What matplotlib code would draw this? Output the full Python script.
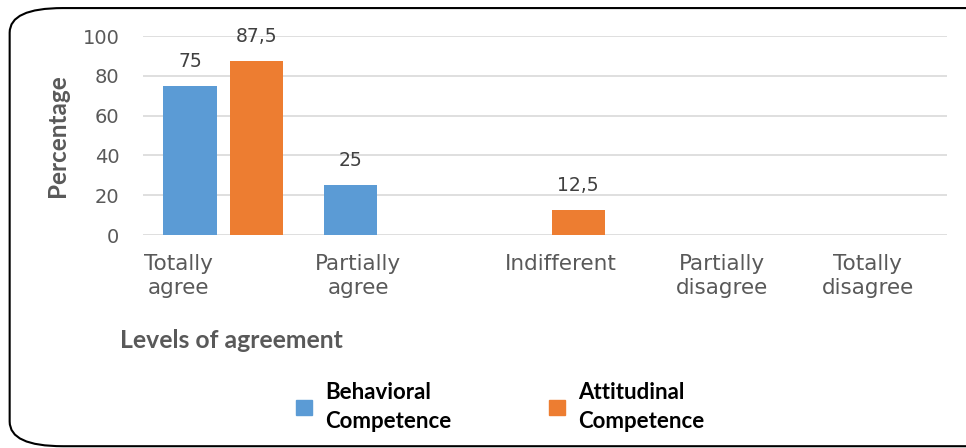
import matplotlib

matplotlib.use('Agg')
import matplotlib.pyplot as plt
from matplotlib.patches import FancyBboxPatch
import numpy as np

plt.rcParams['font.family'] = ['Lato', 'DejaVu Sans']

categories = ["Totally\nagree", "Partially\nagree", "Indifferent", "Partially\ndisagree", "Totally\ndisagree"]
behavioral = [75, 25, 0, 0, 0]
attitudinal = [87.5, 0, 12.5, 0, 0]
series_labels = ["Behavioral\nCompetence", "Attitudinal\nCompetence"]
colors = ["#5B9BD5", "#ED7D31"]

# where the category labels sit (shifted like in the original export)
label_shift = [-0.28, -0.16, 0.10, 0.10, 0.01]

fig = plt.figure(figsize=(9.66, 4.48), dpi=100)
ax = fig.add_axes([0.148, 0.4754, 0.832, 0.4442])

x = np.arange(len(categories))
w = 0.33
handles = []
for i, (vals, col) in enumerate(zip([behavioral, attitudinal], colors)):
    off = (i - 0.5) * 0.415
    for xi, v in zip(x, vals):
        if v > 0:
            ax.bar(xi + off, v, width=w, color=col, zorder=3)
            ax.text(xi + off, v + 9.5, ("%g" % v).replace(".", ","), ha='center', va='baseline',
                    fontsize=13.5, color='#404040', family='DejaVu Sans')
    handles.append(plt.Rectangle((0, 0), 1, 1, color=col))

ax.set_xlim(-0.5, len(categories) - 0.5)
ax.set_ylim(0, 100)
ax.set_yticks(range(0, 101, 20))
ax.grid(axis='y', color='#d9d9d9', linewidth=1.2, zorder=0)
for s in ax.spines.values():
    s.set_visible(False)
ax.tick_params(length=0, labelcolor='#595959')
ax.tick_params(axis='y', pad=17, labelsize=14)
for t in ax.get_yticklabels():
    t.set_family('DejaVu Sans')
ax.set_xticks(x + np.array(label_shift))
ax.set_xticklabels(categories, linespacing=1.25, family='DejaVu Sans')
ax.tick_params(axis='x', pad=14, labelsize=15.5)
ax.set_ylabel("Percentage", fontsize=17.5, fontweight='bold', color='#595959', labelpad=10)

fig.text(0.124, 0.24, "Levels of agreement", fontsize=17.8, fontweight='bold', color='#595959',
         va='center')

leg = fig.legend(handles, series_labels, loc='center', bbox_to_anchor=(0.518, 0.092), ncol=2,
                 frameon=False, prop={'weight': 'bold', 'size': 16}, handlelength=0.7,
                 handleheight=0.7, columnspacing=4.4, handletextpad=0.6, labelspacing=0.2)
for t in leg.get_texts():
    t.set_linespacing(1.45)

box = FancyBboxPatch((0.010, 0.004), 1.2, 0.978, boxstyle="round,pad=0,rounding_size=0.055",
                     transform=fig.transFigure, fill=False, edgecolor='black', linewidth=1.5)
fig.patches.append(box)

fig.savefig("out.png", dpi=100)
